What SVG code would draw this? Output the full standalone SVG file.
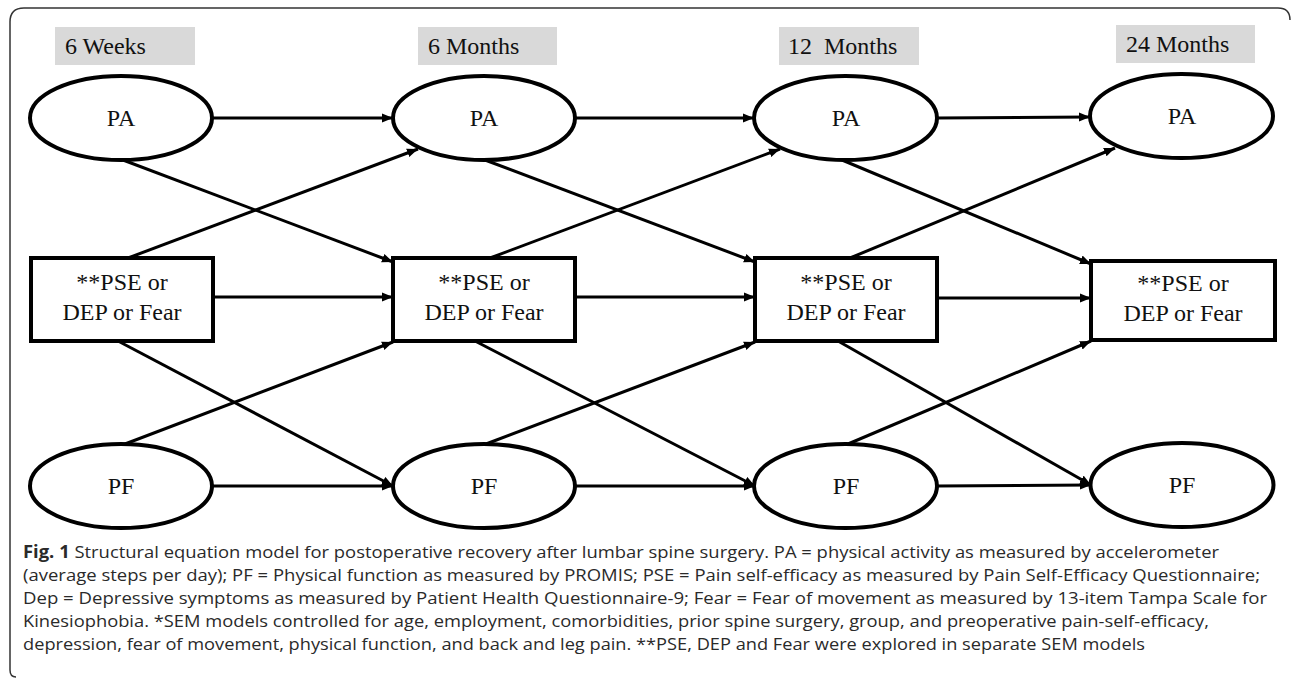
<svg xmlns="http://www.w3.org/2000/svg" width="1292" height="679" viewBox="0 0 1292 679">
<style>
.frame{fill:none;stroke:#333;stroke-width:1.5}
.hdr{fill:#d9d9d9;stroke:none}
.node{fill:#fff;stroke:#000;stroke-width:4}
.t{font-family:"Liberation Serif","Times New Roman",serif;font-size:24px;fill:#111}
.c{text-anchor:middle}
.edge{stroke:#000;stroke-width:3;fill:none;marker-end:url(#ah)}
.cap{font-family:"Open Sans","Noto Sans",sans-serif;font-size:17px;fill:#2a2a2a}
</style>
<defs>
<marker id="ah" markerUnits="userSpaceOnUse" markerWidth="12" markerHeight="10" refX="11" refY="5" orient="auto">
<path d="M0,0.5 L11,5 L0,9.5 z" fill="#000"/>
</marker>
</defs>
<rect width="1292" height="679" fill="#fff"/>
<path class="frame" d="M16 677 Q10 677 10 670 L10 22 Q10 8 24 8 L1278 8 Q1290 8 1290 20"/>

<g id="headers">
<rect class="hdr" x="55" y="27" width="140" height="38"/>
<text class="t" x="65" y="54">6 Weeks</text>
<rect class="hdr" x="418" y="27" width="139" height="38"/>
<text class="t" x="428" y="54">6 Months</text>
<rect class="hdr" x="779" y="27" width="140" height="38"/>
<text class="t" x="788" y="54" style="white-space:pre">12  Months</text>
<rect class="hdr" x="1116" y="25" width="139" height="38"/>
<text class="t" x="1126" y="52">24 Months</text>
</g>

<g id="connectors">
<line class="edge" x1="212" y1="118" x2="393" y2="118"/>
<line class="edge" x1="123" y1="160" x2="393" y2="262"/>
<line class="edge" x1="128" y1="258" x2="418" y2="149"/>
<line class="edge" x1="213" y1="297" x2="393" y2="297"/>
<line class="edge" x1="118" y1="341" x2="393" y2="486"/>
<line class="edge" x1="125" y1="444" x2="393" y2="342"/>
<line class="edge" x1="212" y1="486" x2="393" y2="486"/>

<line class="edge" x1="575" y1="118" x2="754" y2="118"/>
<line class="edge" x1="485" y1="160" x2="755" y2="262"/>
<line class="edge" x1="490" y1="258" x2="780" y2="149"/>
<line class="edge" x1="575" y1="297" x2="755" y2="297"/>
<line class="edge" x1="475" y1="341" x2="755" y2="486"/>
<line class="edge" x1="486" y1="444" x2="755" y2="342"/>
<line class="edge" x1="575" y1="486" x2="755" y2="486"/>

<line class="edge" x1="937" y1="118" x2="1090" y2="117"/>
<line class="edge" x1="842" y1="160" x2="1091" y2="264"/>
<line class="edge" x1="850" y1="258" x2="1115" y2="148"/>
<line class="edge" x1="937" y1="298" x2="1091" y2="298"/>
<line class="edge" x1="838" y1="341" x2="1091" y2="485"/>
<line class="edge" x1="848" y1="444" x2="1091" y2="341"/>
<line class="edge" x1="937" y1="486" x2="1091" y2="485"/>
</g>

<g id="pa1"><ellipse class="node" cx="121" cy="118" rx="91" ry="42"/><text class="t c" x="121" y="126">PA</text></g>
<g id="pa2"><ellipse class="node" cx="484" cy="118" rx="91" ry="42"/><text class="t c" x="484" y="126">PA</text></g>
<g id="pa3"><ellipse class="node" cx="845.5" cy="118" rx="91.5" ry="42"/><text class="t c" x="846" y="126">PA</text></g>
<g id="pa4"><ellipse class="node" cx="1181.5" cy="116" rx="91.5" ry="42"/><text class="t c" x="1182" y="124">PA</text></g>

<g id="m1"><rect class="node" x="31" y="258" width="182" height="83"/><text class="t c" x="122" y="290">**PSE or</text><text class="t c" x="122" y="320">DEP or Fear</text></g>
<g id="m2"><rect class="node" x="393" y="258" width="182" height="83"/><text class="t c" x="484" y="290">**PSE or</text><text class="t c" x="484" y="320">DEP or Fear</text></g>
<g id="m3"><rect class="node" x="755" y="258" width="182" height="83"/><text class="t c" x="846" y="290">**PSE or</text><text class="t c" x="846" y="320">DEP or Fear</text></g>
<g id="m4"><rect class="node" x="1091" y="261" width="184" height="79"/><text class="t c" x="1183" y="291">**PSE or</text><text class="t c" x="1183" y="321">DEP or Fear</text></g>

<g id="pf1"><ellipse class="node" cx="121" cy="486" rx="91" ry="42"/><text class="t c" x="121" y="494">PF</text></g>
<g id="pf2"><ellipse class="node" cx="484" cy="486" rx="91" ry="42"/><text class="t c" x="484" y="494">PF</text></g>
<g id="pf3"><ellipse class="node" cx="845.5" cy="486" rx="91.5" ry="42"/><text class="t c" x="846" y="494">PF</text></g>
<g id="pf4"><ellipse class="node" cx="1182" cy="485" rx="91.5" ry="42"/><text class="t c" x="1182" y="493">PF</text></g>

<g id="caption">
<text class="cap" x="23" y="558" textLength="1196" lengthAdjust="spacingAndGlyphs"><tspan font-weight="bold">Fig. 1</tspan> Structural equation model for postoperative recovery after lumbar spine surgery. PA = physical activity as measured by accelerometer</text>
<text class="cap" x="23" y="581" textLength="1237" lengthAdjust="spacingAndGlyphs">(average steps per day); PF = Physical function as measured by PROMIS; PSE = Pain self-efficacy as measured by Pain Self-Efficacy Questionnaire;</text>
<text class="cap" x="23" y="604" textLength="1244" lengthAdjust="spacingAndGlyphs">Dep = Depressive symptoms as measured by Patient Health Questionnaire-9; Fear = Fear of movement as measured by 13-item Tampa Scale for</text>
<text class="cap" x="23" y="627" textLength="1186" lengthAdjust="spacingAndGlyphs">Kinesiophobia. *SEM models controlled for age, employment, comorbidities, prior spine surgery, group, and preoperative pain-self-efficacy,</text>
<text class="cap" x="23" y="650" textLength="1122" lengthAdjust="spacingAndGlyphs">depression, fear of movement, physical function, and back and leg pain. **PSE, DEP and Fear were explored in separate SEM models</text>
</g>
</svg>
